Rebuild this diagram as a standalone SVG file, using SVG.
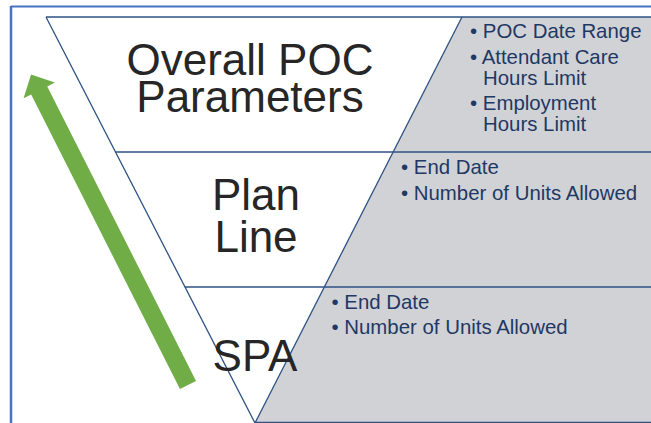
<svg xmlns="http://www.w3.org/2000/svg" width="651" height="423" viewBox="0 0 651 423">
  <style>
    .big { font-family: "Liberation Sans", Arial, sans-serif; font-size: 44px; fill: #262626; text-anchor: middle; }
    .blt { font-family: "Liberation Sans", Arial, sans-serif; font-size: 20.4px; fill: #1f3864; }
    .edge { stroke: #2e5283; stroke-width: 1.3; fill: none; }
  </style>
  <rect x="0" y="0" width="651" height="423" fill="#ffffff"/>
  <g id="frame">
    <line x1="11" y1="6.5" x2="651" y2="6.5" stroke="#4472c4" stroke-width="2"/>
    <line x1="11" y1="6" x2="11" y2="423" stroke="#4472c4" stroke-width="2.5"/>
  </g>
  <polygon points="462,17 651,17 651,423 255,423" fill="#d0d2d6"/>
  <g id="connectors">
    <line class="edge" x1="46" y1="17" x2="651" y2="17"/>
    <line class="edge" x1="46" y1="17" x2="255" y2="423"/>
    <line class="edge" x1="462" y1="17" x2="255" y2="423"/>
    <line class="edge" x1="115.5" y1="152" x2="651" y2="152"/>
    <line class="edge" x1="185" y1="287" x2="651" y2="287"/>
    <line class="edge" x1="255" y1="422.3" x2="651" y2="422.3"/>
  </g>
  <g id="overall">
    <text class="big" x="250" y="75">Overall POC</text>
    <text class="big" x="250" y="112">Parameters</text>
    <text class="blt" x="470" y="37.5">• POC Date Range</text>
    <text class="blt" x="470" y="63.5">• Attendant Care</text>
    <text class="blt" x="483" y="85">Hours Limit</text>
    <text class="blt" x="470" y="110">• Employment</text>
    <text class="blt" x="483" y="131">Hours Limit</text>
  </g>
  <g id="planline">
    <text class="big" x="256" y="210">Plan</text>
    <text class="big" x="256" y="252">Line</text>
    <text class="blt" x="401" y="173.5">• End Date</text>
    <text class="blt" x="401" y="199.5">• Number of Units Allowed</text>
  </g>
  <g id="spa">
    <text class="big" x="255" y="371">SPA</text>
    <text class="blt" x="331.5" y="308.5">• End Date</text>
    <text class="blt" x="331.5" y="333.5">• Number of Units Allowed</text>
  </g>
  <g id="arrow">
    <polygon transform="translate(188,385) rotate(-26.8)" fill="#70ad47" points="-9,0 9,0 9,-330 17.5,-330 0,-348 -17.5,-330 -9,-330"/>
  </g>
</svg>
